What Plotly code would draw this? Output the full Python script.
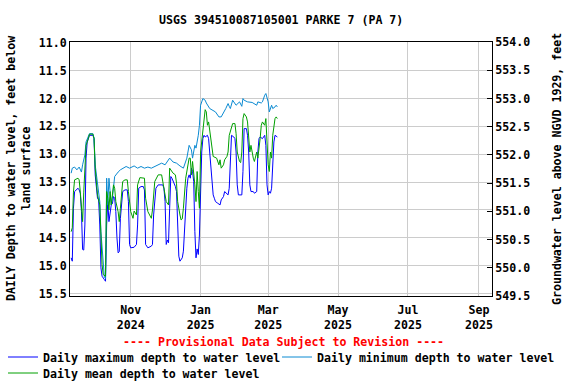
import plotly.graph_objects as go

TITLE = "USGS 394510087105001 PARKE 7 (PA 7)"

max_dates = ["2024-09-10","2024-09-11","2024-09-12","2024-09-13","2024-09-16","2024-09-17","2024-09-18","2024-09-19","2024-09-20","2024-09-21","2024-09-22","2024-09-23","2024-09-24","2024-09-25","2024-09-26","2024-09-29","2024-09-30","2024-10-01","2024-10-02","2024-10-03","2024-10-04","2024-10-05","2024-10-06","2024-10-07","2024-10-09","2024-10-10","2024-10-11","2024-10-12","2024-10-13","2024-10-15","2024-10-16","2024-10-17","2024-10-18","2024-10-19","2024-10-20","2024-10-21","2024-10-22","2024-10-23","2024-10-25","2024-10-27","2024-10-29","2024-10-30","2024-10-31","2024-11-01","2024-11-04","2024-11-06","2024-11-07","2024-11-08","2024-11-10","2024-11-12","2024-11-13","2024-11-14","2024-11-16","2024-11-19","2024-11-20","2024-11-21","2024-11-23","2024-11-25","2024-11-29","2024-11-30","2024-12-01","2024-12-02","2024-12-03","2024-12-04","2024-12-05","2024-12-06","2024-12-07","2024-12-09","2024-12-10","2024-12-11","2024-12-12","2024-12-13","2024-12-14","2024-12-16","2024-12-17","2024-12-18","2024-12-20","2024-12-21","2024-12-22","2024-12-23","2024-12-24","2024-12-25","2024-12-26","2024-12-27","2024-12-28","2024-12-29","2024-12-30","2024-12-31","2025-01-01","2025-01-02","2025-01-03","2025-01-04","2025-01-05","2025-01-07","2025-01-08","2025-01-09","2025-01-10","2025-01-11","2025-01-12","2025-01-13","2025-01-14","2025-01-16","2025-01-18","2025-01-19","2025-01-21","2025-01-22","2025-01-24","2025-01-25","2025-01-26","2025-01-27","2025-01-28","2025-01-30","2025-01-31","2025-02-01","2025-02-02","2025-02-03","2025-02-06","2025-02-07","2025-02-08","2025-02-10","2025-02-11","2025-02-12","2025-02-13","2025-02-14","2025-02-16","2025-02-17","2025-02-19","2025-02-20","2025-02-21","2025-02-22","2025-02-24","2025-02-26","2025-02-27","2025-02-28","2025-03-01","2025-03-02","2025-03-03","2025-03-04","2025-03-05","2025-03-06","2025-03-07","2025-03-09"]
max_depth = [14.86,14.92,13.97,13.67,13.61,13.64,13.70,14.03,14.71,14.72,14.27,13.07,12.78,12.69,12.66,12.66,12.72,13.37,13.67,13.79,13.82,14.27,15.04,15.19,15.25,15.28,14.27,13.85,14.21,13.91,13.89,13.76,13.79,14.03,14.50,14.77,14.75,14.15,13.67,13.64,13.64,13.85,14.62,14.68,14.67,14.62,14.27,13.61,13.58,13.58,13.64,14.62,14.68,14.65,14.62,14.09,13.61,13.55,13.55,13.61,13.85,14.62,14.54,14.59,13.97,13.40,13.43,13.52,13.58,13.67,14.50,14.83,14.92,14.86,14.74,14.27,13.61,13.43,13.37,13.43,13.25,13.31,13.49,14.39,14.86,14.70,14.80,14.45,13.55,12.96,12.72,12.66,12.69,12.66,12.72,12.96,13.19,13.55,13.73,13.79,13.85,13.88,13.91,13.82,13.76,13.67,13.70,13.73,13.61,13.10,12.66,12.69,12.72,12.96,13.55,13.73,13.73,13.31,12.54,12.54,12.66,12.96,13.55,13.67,13.67,13.70,13.67,12.96,12.72,12.69,12.72,12.66,12.84,13.55,13.73,13.67,13.70,13.61,13.25,12.78,12.66,12.69]

min_dates = ["2024-09-10","2024-09-11","2024-09-13","2024-09-15","2024-09-17","2024-09-19","2024-09-20","2024-09-22","2024-09-23","2024-09-25","2024-09-26","2024-09-29","2024-09-30","2024-10-01","2024-10-03","2024-10-05","2024-10-06","2024-10-08","2024-10-09","2024-10-10","2024-10-11","2024-10-12","2024-10-13","2024-10-15","2024-10-16","2024-10-18","2024-10-19","2024-10-21","2024-10-23","2024-10-25","2024-10-28","2024-10-31","2024-11-04","2024-11-07","2024-11-10","2024-11-13","2024-11-16","2024-11-19","2024-11-22","2024-11-25","2024-11-28","2024-12-01","2024-12-03","2024-12-05","2024-12-08","2024-12-11","2024-12-14","2024-12-17","2024-12-20","2024-12-21","2024-12-22","2024-12-24","2024-12-25","2024-12-27","2024-12-28","2024-12-30","2024-12-31","2025-01-01","2025-01-03","2025-01-05","2025-01-06","2025-01-09","2025-01-12","2025-01-14","2025-01-17","2025-01-19","2025-01-23","2025-01-25","2025-01-26","2025-01-27","2025-01-29","2025-02-01","2025-02-04","2025-02-06","2025-02-07","2025-02-08","2025-02-11","2025-02-15","2025-02-19","2025-02-20","2025-02-23","2025-02-24","2025-02-26","2025-02-27","2025-03-01","2025-03-02","2025-03-04","2025-03-05","2025-03-07","2025-03-08","2025-03-09"]
min_depth = [13.34,13.25,13.23,13.28,13.23,13.32,13.19,13.01,12.78,12.66,12.63,12.63,12.71,13.19,13.55,13.85,14.39,14.98,15.21,15.23,13.43,13.91,13.43,13.91,13.79,13.40,13.37,13.32,13.28,13.25,13.22,13.25,13.21,13.25,13.22,13.25,13.23,13.25,13.22,13.19,13.16,13.19,13.12,13.07,13.14,13.16,13.21,13.25,13.07,12.96,12.84,12.92,13.07,12.84,12.89,12.66,12.48,12.12,12.00,12.03,12.08,12.18,12.21,12.24,12.33,12.33,12.18,12.09,12.14,12.18,12.03,12.12,12.06,12.14,12.00,12.03,12.06,12.07,12.12,12.06,12.08,12.06,11.94,11.91,12.06,12.24,12.12,12.18,12.15,12.12,12.15]

mean_dates = ["2024-09-10","2024-09-11","2024-09-12","2024-09-13","2024-09-16","2024-09-17","2024-09-18","2024-09-19","2024-09-20","2024-09-21","2024-09-23","2024-09-25","2024-09-26","2024-09-29","2024-09-30","2024-10-01","2024-10-02","2024-10-03","2024-10-05","2024-10-06","2024-10-07","2024-10-08","2024-10-10","2024-10-11","2024-10-12","2024-10-13","2024-10-14","2024-10-15","2024-10-17","2024-10-18","2024-10-19","2024-10-21","2024-10-22","2024-10-23","2024-10-25","2024-10-27","2024-10-29","2024-10-30","2024-11-01","2024-11-03","2024-11-04","2024-11-06","2024-11-07","2024-11-09","2024-11-11","2024-11-13","2024-11-14","2024-11-16","2024-11-19","2024-11-20","2024-11-22","2024-11-25","2024-11-28","2024-11-29","2024-12-01","2024-12-02","2024-12-04","2024-12-05","2024-12-08","2024-12-10","2024-12-11","2024-12-12","2024-12-14","2024-12-15","2024-12-16","2024-12-17","2024-12-19","2024-12-20","2024-12-22","2024-12-23","2024-12-24","2024-12-25","2024-12-26","2024-12-27","2024-12-28","2024-12-29","2024-12-30","2024-12-31","2025-01-01","2025-01-03","2025-01-04","2025-01-05","2025-01-06","2025-01-07","2025-01-08","2025-01-10","2025-01-11","2025-01-12","2025-01-15","2025-01-17","2025-01-18","2025-01-19","2025-01-21","2025-01-22","2025-01-24","2025-01-25","2025-01-26","2025-01-28","2025-01-29","2025-01-31","2025-02-01","2025-02-02","2025-02-04","2025-02-05","2025-02-06","2025-02-07","2025-02-08","2025-02-10","2025-02-11","2025-02-13","2025-02-14","2025-02-16","2025-02-17","2025-02-19","2025-02-20","2025-02-22","2025-02-23","2025-02-24","2025-02-26","2025-02-27","2025-02-28","2025-03-01","2025-03-02","2025-03-03","2025-03-04","2025-03-05","2025-03-07","2025-03-08","2025-03-09"]
mean_depth = [14.39,14.32,13.68,13.46,13.43,13.46,13.68,14.03,14.21,13.68,12.84,12.72,12.64,12.64,12.72,13.25,13.55,13.73,13.91,14.57,14.98,15.16,15.19,13.67,13.79,14.00,13.67,13.91,13.55,13.61,13.85,14.03,14.21,13.97,13.49,13.46,13.46,13.67,14.03,14.15,14.02,14.09,13.55,13.42,13.42,13.43,13.79,14.03,14.15,14.00,13.49,13.37,13.37,13.49,13.67,13.85,13.91,13.25,13.34,13.37,13.52,13.85,14.09,14.18,14.16,13.97,13.43,13.31,13.07,13.07,13.37,13.13,13.31,13.55,13.85,13.31,13.67,13.97,12.96,12.54,12.36,12.20,12.24,12.48,12.42,12.72,12.96,13.04,13.07,13.19,13.10,13.25,13.19,13.10,13.04,12.96,12.66,12.48,12.45,12.45,12.63,12.96,13.13,13.15,12.96,12.36,12.27,12.33,12.42,12.96,12.84,13.07,13.13,12.96,13.07,12.72,12.48,12.42,12.48,12.36,12.96,13.19,13.31,12.96,13.07,12.66,12.36,12.33,12.36]

left_range = [15.545, 10.985]
right_range = [549.5, 554.0]
x_range = ["2024-09-09", "2025-09-12 10:00"]

FONT = dict(family="DejaVu Sans Mono", size=11.6, color="black", weight="bold")

fig = go.Figure()
fig.add_trace(go.Scatter(x=max_dates, y=max_depth, mode="lines",
                         line=dict(color="#0000ff", width=1),
                         name="Daily maximum depth to water level", legend="legend"))
fig.add_trace(go.Scatter(x=min_dates, y=min_depth, mode="lines",
                         line=dict(color="#0a8ad2", width=1),
                         name="Daily minimum depth to water level", legend="legend2"))
fig.add_trace(go.Scatter(x=mean_dates, y=mean_depth, mode="lines",
                         line=dict(color="#00a000", width=1),
                         name="Daily mean depth to water level", legend="legend3"))
# invisible trace to carry the right-hand axis
fig.add_trace(go.Scatter(x=[max_dates[0]], y=[right_range[0]], yaxis="y2",
                         mode="lines", showlegend=False, hoverinfo="skip",
                         line=dict(color="rgba(0,0,0,0)")))

legend_common = dict(orientation="h", xanchor="left", yanchor="middle",
                     xref="container", yref="container",
                     font=FONT, bgcolor="rgba(0,0,0,0)", borderwidth=0)

fig.update_layout(
    width=576, height=384,
    margin=dict(l=70, r=84, t=42, b=88, autoexpand=False),
    paper_bgcolor="white", plot_bgcolor="white",
    font=FONT,
    showlegend=True,
    legend=dict(legend_common, x=3/576, y=1-357/384),
    legend2=dict(legend_common, x=277/576, y=1-357/384),
    legend3=dict(legend_common, x=3/576, y=1-373/384),
    xaxis=dict(range=x_range, type="date", tick0="2024-11-01", dtick="M2",
               tickformat="%b<br>%Y", showgrid=True, gridcolor="#cccccc", gridwidth=1,
               showline=True, linecolor="black", linewidth=1, mirror=True,
               ticks="", tickfont=FONT, zeroline=False, ticklabelstandoff=3),
    yaxis=dict(range=left_range, dtick=0.5, tickformat=".1f", showgrid=True,
               gridcolor="#cccccc", gridwidth=1, showline=True, linecolor="black",
               linewidth=1, ticks="", tickfont=FONT, zeroline=False),
    yaxis2=dict(range=right_range, dtick=0.5, tickformat=".1f", overlaying="y",
                side="right", showgrid=False, showline=True, linecolor="black",
                linewidth=1, ticks="inside", ticklen=5, tickcolor="black",
                tickfont=FONT, zeroline=False),
)

fig.add_annotation(text=TITLE, xref="paper", yref="paper", x=0.5, y=1.087,
                   showarrow=False, font=FONT, xanchor="center", yanchor="middle")
fig.add_annotation(text="DAILY Depth to water level, feet below<br>land surface",
                   xref="paper", yref="paper", x=-0.123, y=0.5, textangle=-90,
                   showarrow=False, font=FONT, xanchor="center", yanchor="middle")
fig.add_annotation(text="Groundwater level above NGVD 1929, feet",
                   xref="paper", yref="paper", x=1.154, y=0.5, textangle=-90,
                   showarrow=False, font=FONT, xanchor="center", yanchor="middle")
fig.add_annotation(text="---- Provisional Data Subject to Revision ----",
                   xref="paper", yref="paper", x=0.507, y=-0.181,
                   showarrow=False, font=dict(FONT, color="red"),
                   xanchor="center", yanchor="middle")

fig.write_html("out.html", config={"displayModeBar": False},
               post_script="document.body.style.margin='0';document.body.style.overflow='hidden';")
